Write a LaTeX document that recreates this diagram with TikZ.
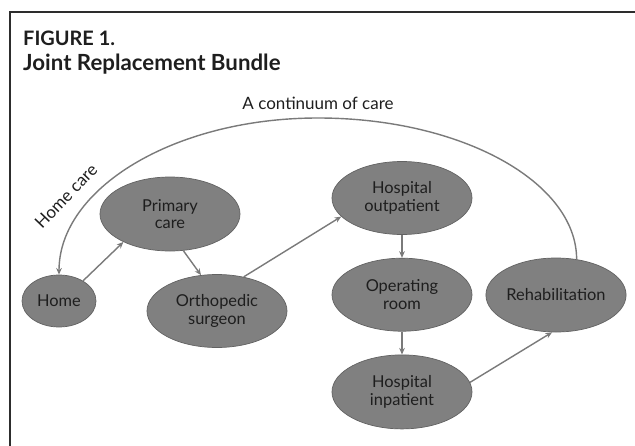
\documentclass[tikz,border=0pt]{standalone}
\usepackage{fontspec}
\setmainfont{Lato}
\usetikzlibrary{arrows.meta,positioning,shapes.geometric}
\definecolor{stagefill}{RGB}{128,128,128}
\definecolor{stageline}{RGB}{98,98,98}
\definecolor{flowline}{RGB}{122,122,122}
\definecolor{inkgray}{RGB}{30,30,30}
\definecolor{framegray}{RGB}{45,45,45}
\tikzset{
  >={Stealth[length=2mm,width=1.7mm]},
  stage/.style={
    ellipse, draw=stageline, fill=stagefill, line width=0.6pt, align=center,
    inner sep=0pt, text=inkgray, font=\fontsize{14}{15}\selectfont,
    minimum width=4.2cm, minimum height=2.22cm
  },
  flow/.style={->, draw=flowline, line width=1.2pt},
  tag/.style={text=inkgray, inner sep=0pt, font=\fontsize{14.5}{16}\selectfont},
  heading/.style={anchor=base west, inner sep=0pt, text=inkgray},
}

\begin{document}
\begin{tikzpicture}[x=0.03cm, y=-0.03cm]
  \useasboundingbox (0,0) rectangle (635,446);
  % open frame, top and left edges only
  \draw[framegray, line width=1.7pt] (10,446) -- (10,12) -- (635,12);

  \node[heading, font=\fontsize{17}{19}\selectfont\bfseries] (fig) at (23,45) {FIGURE 1.};
  \node[heading, font=\fontsize{19}{21}\selectfont\bfseries] (ttl) at (23,70) {Joint Replacement Bundle};

  % care stages
  \node[stage, minimum width=2.22cm, minimum height=1.56cm] (home) at (59,301) {Home};
  \node[stage] (prim) at (170,214) {Primary\\care};
  \node[stage, minimum height=2.19cm] (ortho) at (217,311) {Orthopedic\\surgeon};
  \node[stage, minimum height=2.19cm] (hout) at (402,198) {Hospital\\outpatient};
  \node[stage, minimum height=2.19cm, below=0.69cm of hout] (oproom) {Operating\\room};
  \node[stage, below=0.69cm of oproom] (hin) {Hospital\\inpatient};
  \node[stage, minimum width=4.08cm] (reh) at (556,295) {Rehabilitation};

  % the big loop back home
  \coordinate (arctop) at (318,118);
  \draw[flow] (reh.60) .. controls +(0,-77) and +(144,0) .. (arctop)
    .. controls +(-144,0) and +(0,-86) .. (home.north);
  \node[tag, above=2.4mm of arctop] (cont) {A continuum of care};
  \node[tag, rotate=46] (hcare) at (66,196) {Home care};

  \draw[flow] (home.40) -- (prim.211);
  \draw[flow] (prim.-70) -- (ortho.114);
  \draw[flow] (ortho.52) -- (hout.197);
  \draw[flow] (hout) -- (oproom);
  \draw[flow] (oproom) -- (hin);
  \draw[flow] (hin.8) -- (reh.264);
\end{tikzpicture}
\end{document}
